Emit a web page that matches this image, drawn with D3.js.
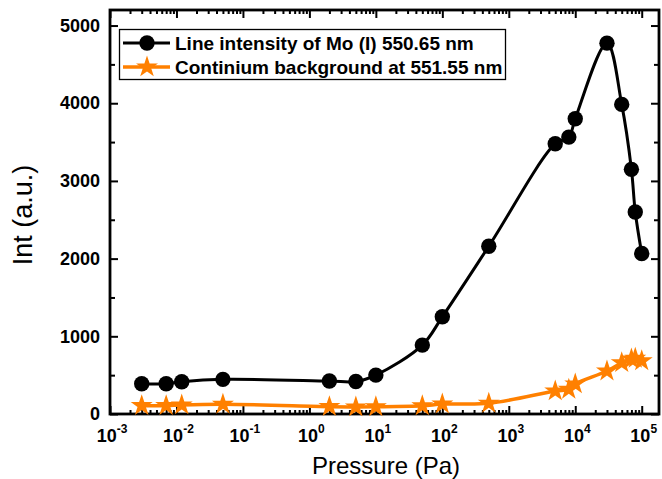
<!DOCTYPE html>
<html><head><meta charset="utf-8">
<script src="https://cdn.jsdelivr.net/npm/d3@7"></script>
<style>body{margin:0;background:#fff}svg{display:block}</style>
</head><body>
<svg id="chart" width="662" height="479"></svg>
<script>
const pressure = [0.003, 0.007, 0.012, 0.05, 2, 5, 10, 50, 100, 500, 5000, 8000, 10000, 30000, 50000, 70000, 80000, 100000];
const lineIntensity = [390, 390, 415, 446, 424, 418, 501, 887, 1251, 2159, 3479, 3564, 3800, 4773, 3985, 3149, 2600, 2065];
const continuum = [107, 107, 116, 125, 94, 90, 92, 105, 128, 137, 296, 317, 386, 553, 660, 707, 716, 685];
const xMajorExp = [-3, -2, -1, 0, 1, 2, 3, 4, 5];
const yTicks = [0, 1000, 2000, 3000, 4000, 5000];
const yMinor = [500, 1500, 2500, 3500, 4500];
const seriesNames = ["Line intensity of Mo (I) 550.65 nm", "Continium background at 551.55 nm"];
const colors = ["#000000", "#FF8000"];

(function () {
const svg = d3.select("#chart");
const L = 110, R = 659, T = 10, B = 414;
const x = d3.scaleLog().domain([1e-3, Math.pow(10, 5.26)]).range([L, R]);
const y = d3.scaleLinear().domain([0, 5200]).range([B, T]);
const font = "'Liberation Sans', Arial, sans-serif";

const minorX = [];
xMajorExp.forEach(e => { if (e < 5) for (let k = 2; k <= 9; k++) minorX.push(k * Math.pow(10, e)); });
const majorX = xMajorExp.map(e => Math.pow(10, e));

const g = svg.append("g");
g.append("g").attr("transform", `translate(0,${B})`)
  .call(d3.axisBottom(x).tickValues(majorX).tickSizeInner(-8).tickSizeOuter(0).tickFormat(""));
g.append("g").attr("transform", `translate(0,${B})`)
  .call(d3.axisBottom(x).tickValues(minorX).tickSizeInner(-4).tickSizeOuter(0).tickFormat(""));
g.append("g").attr("transform", `translate(0,${T})`)
  .call(d3.axisTop(x).tickValues(majorX).tickSizeInner(-8).tickSizeOuter(0).tickFormat(""));
g.append("g").attr("transform", `translate(0,${T})`)
  .call(d3.axisTop(x).tickValues(minorX).tickSizeInner(-4).tickSizeOuter(0).tickFormat(""));
const axL = g.append("g").attr("transform", `translate(${L},0)`)
  .call(d3.axisLeft(y).tickValues(yTicks).tickSizeInner(-8).tickSizeOuter(0).tickPadding(10).tickFormat(d3.format("d")));
g.append("g").attr("transform", `translate(${L},0)`)
  .call(d3.axisLeft(y).tickValues(yMinor).tickSizeInner(-5).tickSizeOuter(0).tickFormat(""));
g.append("g").attr("transform", `translate(${R},0)`)
  .call(d3.axisRight(y).tickValues(yTicks).tickSizeInner(-8).tickSizeOuter(0).tickFormat(""));
g.append("g").attr("transform", `translate(${R},0)`)
  .call(d3.axisRight(y).tickValues(yMinor).tickSizeInner(-5).tickSizeOuter(0).tickFormat(""));

g.selectAll(".domain").remove();
g.selectAll(".tick line").attr("stroke", "#000").attr("stroke-width", 2);
axL.selectAll(".tick text").attr("font-family", font).attr("font-size", 18).attr("font-weight", "bold").attr("fill", "#000");

svg.append("rect").attr("x", L).attr("y", T).attr("width", R - L).attr("height", B - T)
  .attr("fill", "none").attr("stroke", "#000").attr("stroke-width", 2.8);

const xl = svg.append("g");
xMajorExp.forEach(e => {
  const t = xl.append("text").attr("x", x(Math.pow(10, e)) + 2).attr("y", B + 28)
    .attr("text-anchor", "middle").attr("font-family", font).attr("font-weight", "bold").attr("font-size", 18).attr("fill", "#000");
  t.append("tspan").text("10");
  t.append("tspan").attr("font-size", 12).attr("dy", -9).text(String(e));
});

svg.append("text").attr("x", 386).attr("y", 474).attr("text-anchor", "middle")
  .attr("font-family", font).attr("font-size", 24).attr("fill", "#000").text("Pressure (Pa)");
svg.append("text").attr("transform", `translate(32,215) rotate(-90)`).attr("text-anchor", "middle")
  .attr("font-family", font).attr("font-size", 27).attr("fill", "#000").text("Int (a.u.)");

const line = d3.line().curve(d3.curveCatmullRom.alpha(0.5));
const s1 = pressure.map((p, i) => [x(p), y(lineIntensity[i])]);
const s2 = pressure.map((p, i) => [x(p), y(continuum[i])]);
const plot = svg.append("g");
plot.append("path").attr("d", line(s2)).attr("fill", "none").attr("stroke", colors[1]).attr("stroke-width", 3.5);
plot.append("path").attr("d", line(s1)).attr("fill", "none").attr("stroke", colors[0]).attr("stroke-width", 3);

const star = d3.symbol().type(d3.symbolStar).size(150);
plot.selectAll(".star").data(s2).join("path").attr("class", "star")
  .attr("transform", d => `translate(${d[0]},${d[1]})`).attr("d", star).attr("fill", colors[1]);
plot.selectAll(".dot").data(s1).join("circle").attr("class", "dot")
  .attr("cx", d => d[0]).attr("cy", d => d[1]).attr("r", 7.7).attr("fill", colors[0]);

const lg = svg.append("g");
lg.append("rect").attr("x", 119.5).attr("y", 29.5).attr("width", 386).attr("height", 50)
  .attr("fill", "#fff").attr("stroke", "#000").attr("stroke-width", 1.3);
seriesNames.forEach((name, i) => {
  const cy = 43 + i * 24;
  lg.append("line").attr("x1", 123).attr("x2", 170).attr("y1", cy).attr("y2", cy)
    .attr("stroke", colors[i]).attr("stroke-width", i ? 3.5 : 3);
  if (i === 0) lg.append("circle").attr("cx", 147).attr("cy", cy).attr("r", 7.7).attr("fill", colors[0]);
  else lg.append("path").attr("transform", `translate(147,${cy})`).attr("d", star).attr("fill", colors[1]);
  lg.append("text").attr("x", 175).attr("y", cy + 7).attr("font-family", font).attr("font-weight", "bold")
    .attr("font-size", 19).attr("fill", "#000").text(name);
});
})();
</script>
</body></html>
